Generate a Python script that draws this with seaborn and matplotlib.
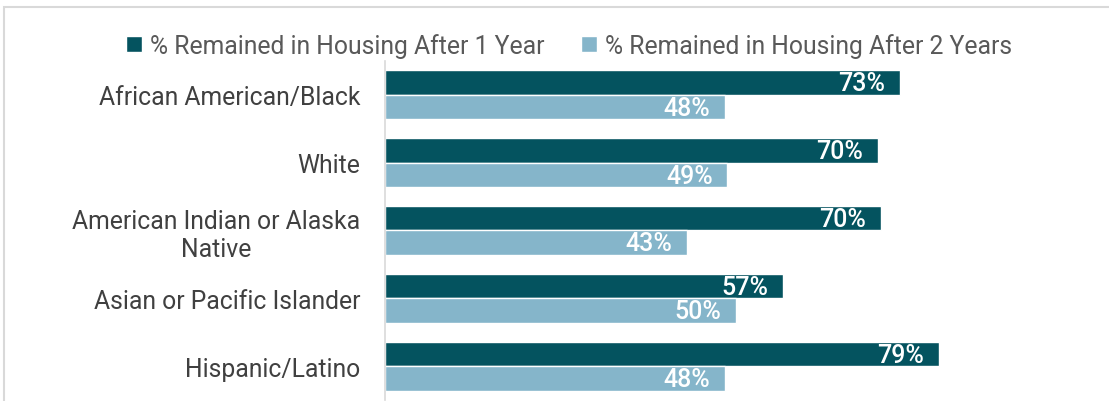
import pandas as pd
import matplotlib.pyplot as plt
import seaborn as sns
from matplotlib.patches import Rectangle

## datos
grupos = ["African American/Black", "White", "American Indian or Alaska\nNative",
          "Asian or Pacific Islander", "Hispanic/Latino"]
series = ["% Remained in Housing After 1 Year", "% Remained in Housing After 2 Years"]
anio_1 = [0.733, 0.701, 0.705, 0.566, 0.788]
anio_2 = [0.484, 0.487, 0.430, 0.499, 0.483]
colores = ["#04535F", "#85B5CA"]

df = pd.DataFrame({
    "grupo": grupos * 2,
    "serie": [series[0]] * len(grupos) + [series[1]] * len(grupos),
    "valor": anio_1 + anio_2,
})

sns.set_style("white")
plt.rcParams["font.family"] = ["Roboto", "DejaVu Sans"]

fig = plt.figure(figsize=(11.09, 4.02), dpi=100)
ax = fig.add_axes([0.3474, 0.0025, 0.6335, 0.8435])

sns.barplot(data=df, y="grupo", x="valor", hue="serie", palette=colores,
            orient="h", width=0.72, gap=0, ax=ax, saturation=1)

ax.set_xlim(0, 1)
ax.set_ylim(4.5, -0.5)
ax.set_xlabel("")
ax.set_ylabel("")
ax.set_xticks([])
for s in ["top", "right", "bottom"]:
    ax.spines[s].set_visible(False)
ax.spines["left"].set_color("#D9D9D9")
ax.spines["left"].set_linewidth(1.2)
ax.tick_params(axis="y", length=0, pad=18, labelsize=17.8, labelcolor="#404040")
for lbl in ax.get_yticklabels():
    lbl.set_multialignment("center")

## etiquetas dentro de las barras
for cont in ax.containers:
    for p in cont.patches:
        w = p.get_width()
        ax.text(w - 0.021, p.get_y() + p.get_height() / 2 + 0.01, f"{w:.0%}",
                ha="right", va="center", color="white", fontsize=18,
                fontweight="medium")

ax.legend(loc="center", bbox_to_anchor=(0.513, 0.885), bbox_transform=fig.transFigure,
          ncol=2, frameon=False, fontsize=17.8, handlelength=0.65, handleheight=0.65,
          handletextpad=0.3, columnspacing=1.5, labelcolor="#595959")

## marco del grafico
fig.patches.append(Rectangle((4 / 1109, -0.1), 1.2, 1 - 8 / 402 + 0.1,
                             transform=fig.transFigure, fill=False,
                             edgecolor="#D9D9D9", linewidth=1.5))

fig.savefig("out.png", dpi=100)
